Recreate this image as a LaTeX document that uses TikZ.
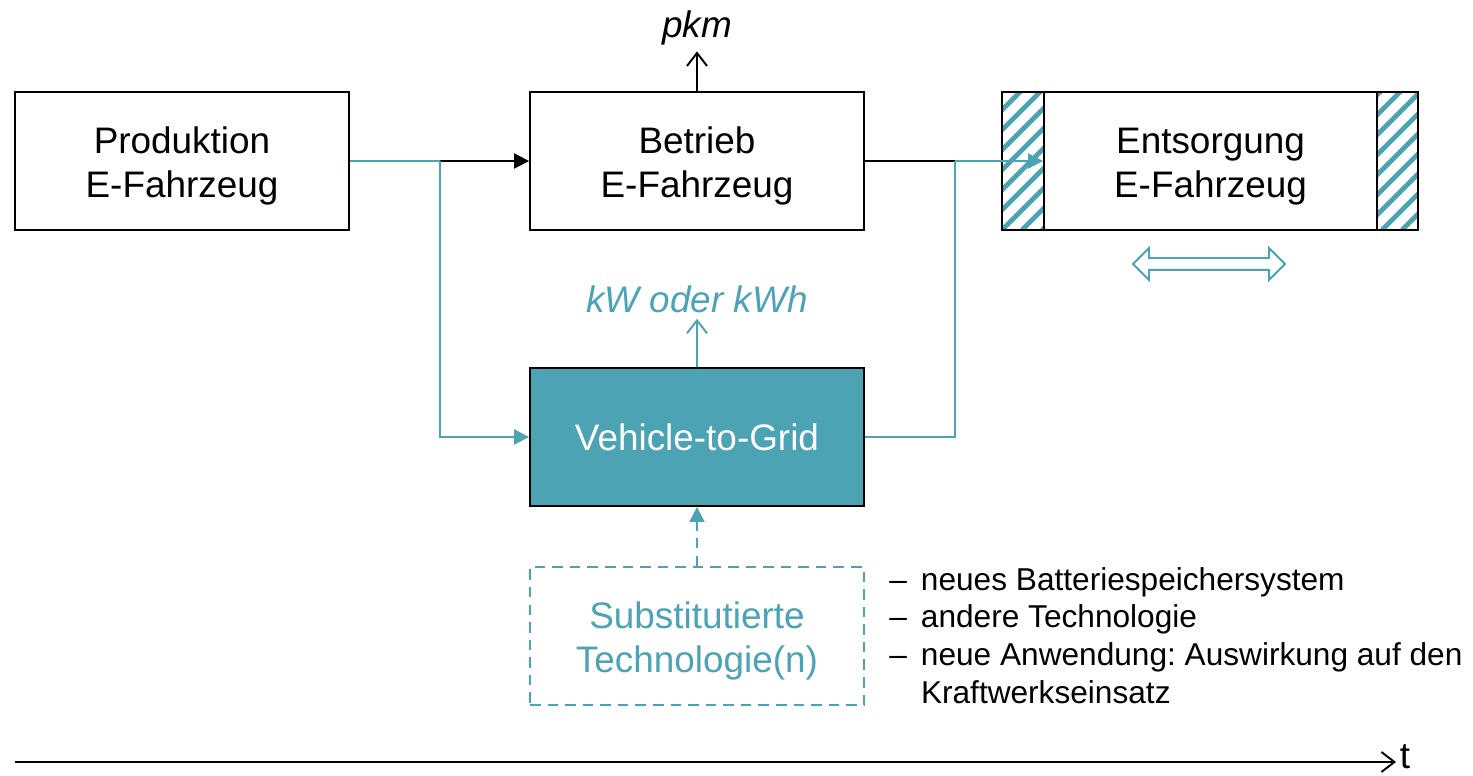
\documentclass[tikz,border=0pt]{standalone}
\usepackage{fontspec}
\setmainfont{Liberation Sans}
\frenchspacing
\usetikzlibrary{arrows.meta,positioning,calc,shapes.arrows}
\definecolor{vtgteal}{RGB}{75,163,180}
\newcommand\toprule{\rule{0pt}{21pt}}
\tikzset{
  block/.style    = {draw, line width=1.1pt, rectangle, minimum height=2.76cm,
                     minimum width=6.68cm, align=center,
                     font=\fontsize{21}{25}\selectfont},
  v2gblock/.style = {block, fill=vtgteal, text=white},
  subblock/.style = {block, draw=vtgteal, dashed,
                     dash pattern=on 6pt off 4pt, text=vtgteal},
  lbl/.style      = {font=\fontsize{21}{25}\selectfont\itshape},
  sig/.style      = {-{Triangle[length=3mm,width=3mm]}, line width=1.1pt},
  tealline/.style = {line width=1.1pt, draw=vtgteal},
  tealsig/.style  = {sig, draw=vtgteal},
  opensig/.style  = {-{Straight Barb[length=2.6mm,width=4mm]}, line width=1.1pt},
  hatch/.style    = {draw=vtgteal, line width=2.8pt},
  dblarrow/.style = {double arrow, draw=vtgteal, line width=1.1pt, fill=white,
                     minimum height=3.04cm, inner sep=0.1cm,
                     double arrow head extend=0.2cm},
}

\begin{document}
\begin{tikzpicture}[x=0.02cm,y=-0.02cm]
\useasboundingbox (0,0) rectangle (1473,776);
% hatched side parts of the disposal box
\begin{scope}
\clip (1002,92) rectangle (1044,230) (1377,92) rectangle (1418,230);
\foreach \i in {0,...,28}
  \draw[hatch] (862+\i*20,230) -- ++(140,-140);
\end{scope}
\node[block] (prod) at (182,161) {\toprule Produktion\\E-Fahrzeug};
\node[block] (betr) at (697,161) {\toprule Betrieb\\E-Fahrzeug};
\node[block,minimum width=8.32cm] (entbox) at (1210,161) {};
\node[block,minimum width=6.66cm] (ent) at (1210.5,161) {\toprule Entsorgung\\E-Fahrzeug};
\node[v2gblock] (v2g) at (697,437) {Vehicle-to-Grid};
\node[subblock] (sub) at (697,636) {\toprule Substitutierte\\Technologie(n)};
\node[lbl] (pkm) at (697,28) {pkm};
\node[lbl,text=vtgteal] (kwh) at (697,299) {kW oder kWh};
\node[dblarrow] (span) at (1209,264) {};
\coordinate (s1) at (440,161);
\coordinate (s2) at (955,161);
\draw[tealline] (prod) -- (s1);
\draw[sig] (s1) -- (betr);
\draw[tealsig] (s1) |- (v2g);
\draw[line width=1.1pt] (betr) -- (s2);
\draw[tealsig] (s2) -- (ent);
\draw[tealline] (v2g) -| (s2);
\draw[opensig] (betr) -- (pkm);
\draw[opensig,draw=vtgteal] (v2g) -- (kwh);
\draw[tealsig,dashed,dash pattern=on 6pt off 4pt] (sub) -- (v2g);
% list of substitutes
\node[anchor=base west,inner sep=0pt,font=\fontsize{18}{21.6}\selectfont] (notes) at (889,590)
  {\begin{tabular}[t]{@{}l@{\hspace{8pt}}l@{}}
   -- & neues Batteriespeichersystem\\
   -- & andere Technologie\\
   -- & neue Anwendung: Auswirkung auf den\\
      & Kraftwerkseinsatz
   \end{tabular}};
% time axis
\coordinate (t0) at (15,762);
\node[inner sep=2pt,font=\fontsize{21}{25}\selectfont] (tlab) at (1405,757) {t};
\draw[opensig] (t0) -- (tlab.west |- t0);
\end{tikzpicture}
\end{document}
